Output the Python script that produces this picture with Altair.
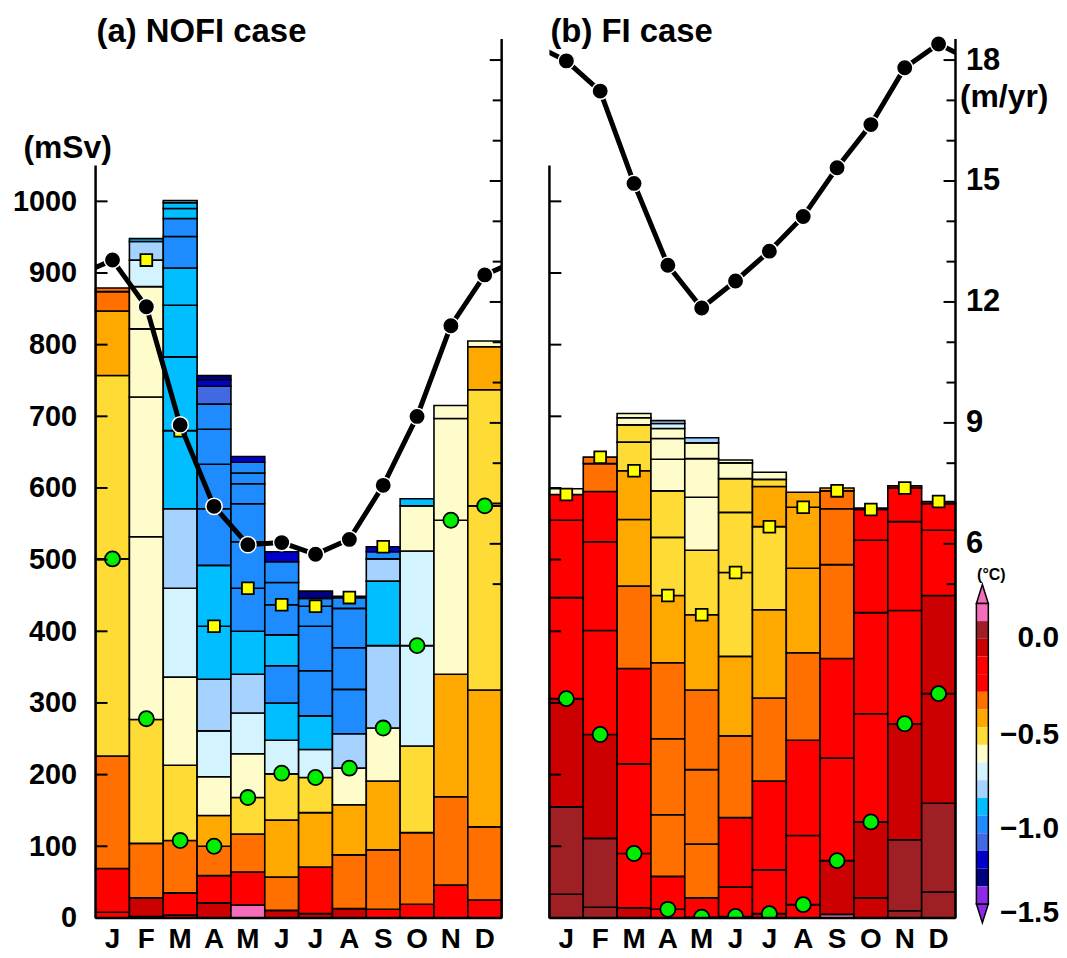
import json
import altair as alt
import pandas as pd

FONT = "Liberation Sans"
MONTHS = ["J", "F", "M", "A", "M", "J", "J", "A", "S", "O", "N", "D"]

CLASS_KEYS = ["P", "BR", "DR", "R", "O", "OL", "Y", "LY", "LC", "LB", "C", "DB", "RB", "MB", "NV", "PU"]
CLASS_COLORS = ["#F46CBA", "#9E2024", "#CC0000", "#FF0000", "#FF7000", "#FFA800", "#FFDC35", "#FFFCCC",
                "#D3F3FF", "#A5D2FF", "#00BEFF", "#1E8CFF", "#4169E1", "#0000CD", "#000080", "#8B2BE8"]

CBAR_CLASSES = ["P", "BR", "DR", "R", "R", "O", "OL", "Y", "LY", "LC", "LB", "C", "DB", "RB", "MB", "NV", "PU"]
CBAR_LABELS = ["0.0", "\u22120.5", "\u22121.0", "\u22121.5"]
CBAR_LABEL_POS = [1.97, 7.42, 12.75, 17.53]

# (a) NOFI case: stacked layer boundaries (mSv) and temperature classes per month
NOFI_BOUNDS = [
    [0, 8, 69, 226, 501, 757, 847, 874, 879],
    [0, 2, 28, 104, 277, 532, 727, 822, 881, 918, 944, 948],
    [0, 4, 35, 108, 213, 336, 460, 571, 680, 783, 855, 907, 951, 976, 990, 998, 1001],
    [0, 21, 59, 100, 143, 197, 261, 333, 407, 492, 571, 633, 682, 717, 742, 751, 757],
    [0, 18, 64, 117, 168, 229, 286, 340, 400, 460, 525, 578, 606, 621, 636, 644],
    [0, 10.6, 57, 136.5, 201, 248, 300, 352, 395, 437, 468, 497, 511],
    [0, 6, 71, 147, 196, 235, 282, 345, 407, 435, 446, 456],
    [0, 13, 88, 158, 209, 257, 319, 377, 432, 447, 449],
    [0, 12, 95, 191, 265, 380, 470, 501, 511, 518],
    [0, 19, 119, 240, 380, 512, 575, 585],
    [0, 46, 169, 340, 555, 697, 715],
    [0, 25, 127, 318, 575, 737, 797, 805],
]
NOFI_CLASSES = [
    ["R", "R", "O", "Y", "Y", "OL", "O", "O"],
    ["P", "DR", "O", "Y", "LY", "LY", "LY", "LY", "LC", "LB", "C"],
    ["DR", "R", "O", "Y", "LY", "LC", "LB", "C", "C", "C", "C", "DB", "DB", "C", "C", "LB"],
    ["DR", "R", "O", "OL", "LY", "LC", "LB", "C", "C", "DB", "DB", "DB", "DB", "RB", "MB", "NV"],
    ["P", "R", "O", "Y", "LY", "LC", "LB", "C", "DB", "DB", "DB", "DB", "DB", "DB", "MB"],
    ["DR", "O", "OL", "Y", "LC", "C", "DB", "C", "DB", "DB", "DB", "MB"],
    ["DR", "R", "OL", "Y", "LC", "C", "DB", "DB", "DB", "DB", "NV"],
    ["DR", "O", "OL", "LY", "LB", "DB", "DB", "DB", "DB", "MB"],
    ["R", "O", "OL", "LY", "LB", "C", "LB", "DB", "MB"],
    ["R", "O", "Y", "LC", "LC", "LY", "C"],
    ["R", "O", "OL", "LY", "LY", "LY"],
    ["R", "O", "OL", "Y", "Y", "OL", "LY"],
]
NOFI_GREEN = [501, 278, 108, 100, 168, 202, 196, 209, 265, 380, 555, 575]
NOFI_SQUARE = [None, 918, 680, 407, 460, 437, 435, 447, 518, None, None, None]
NOFI_SPEED = [13.04, 11.88, 8.95, 6.93, 5.98, 6.03, 5.74, 6.11, 7.45, 9.16, 11.41, 12.67]

# (b) FI case
FI_BOUNDS = [
    [0, 33, 155, 306, 447, 555, 591, 599],
    [0, 15, 111, 256, 401, 525, 595, 634, 643],
    [0, 14, 90, 215, 348, 463, 556, 624, 664, 688, 698, 704],
    [0, 12, 58, 144, 250, 356, 450, 531, 596, 640, 669, 683, 690, 694],
    [0, 1, 28, 103, 207, 318, 423, 513, 587, 641, 663, 670],
    [0, 2, 43, 140, 254, 365, 482, 566, 613, 635, 639],
    [0, 6, 67, 191, 307, 430, 546, 602, 612, 622],
    [0, 18.5, 115, 248, 370, 488, 573, 594],
    [0, 5, 80, 223, 362, 493, 571, 596, 600],
    [0, 28, 134, 285, 426, 527, 570, 572],
    [0, 10, 109, 271, 429, 553, 600, 603],
    [0, 36, 160, 313, 450, 541, 578, 581],
]
FI_CLASSES = [
    ["BR", "BR", "DR", "R", "R", "R", "LY"],
    ["BR", "BR", "DR", "R", "R", "R", "O", "O"],
    ["DR", "R", "R", "R", "O", "OL", "OL", "Y", "Y", "LY", "LY"],
    ["R", "R", "O", "O", "O", "OL", "Y", "Y", "LY", "LY", "LY", "LC", "LB"],
    ["R", "R", "O", "O", "O", "OL", "Y", "LY", "LY", "LY", "LB"],
    ["DR", "R", "R", "O", "OL", "Y", "Y", "Y", "LY", "LY"],
    ["DR", "R", "R", "O", "OL", "Y", "OL", "Y", "LY"],
    ["R", "R", "R", "O", "OL", "OL", "OL"],
    ["P", "DR", "R", "R", "O", "O", "O", "OL"],
    ["DR", "DR", "R", "R", "R", "R", "DR"],
    ["BR", "BR", "DR", "R", "R", "R", "DR"],
    ["BR", "BR", "DR", "DR", "R", "R", "DR"],
]
FI_GREEN = [306, 256, 90, 12, 1, 2, 6, 18.5, 80, 134, 271, 313]
FI_SQUARE = [591, 643, 624, 450, 423, 482, 546, 573, 596, 570, 600, 581]
FI_SPEED = [17.98, 17.23, 14.94, 12.91, 11.85, 12.52, 13.26, 14.12, 15.33, 16.40, 17.81, 18.40]

MSV_LABELS = list(range(0, 1001, 100))
MSV_TICKS = list(range(100, 1001, 100))
MSV_AXIS_TOP = 1050
SPEED_LABELS = [6, 9, 12, 15, 18]
SPEED_MINOR = [5, 7, 8, 10, 11, 13, 14, 16, 17]

W, H = 408, 883
MSV_DOMAIN = [0, 1226.4]
SPEED_DOMAIN = [-3.28, 18.52]

TRI_UP = "M0,-1L0.63,1L-0.63,1Z"
TRI_DOWN = "M0,1L0.63,-1L-0.63,-1Z"


def xs():
    return alt.Scale(domain=[0, 12], nice=False, zero=False)


def ys():
    return alt.Scale(domain=MSV_DOMAIN, nice=False, zero=False)


def vs():
    return alt.Scale(domain=SPEED_DOMAIN, nice=False, zero=False)


def cbs():
    return alt.Scale(domain=[0, 17], range=[567, 869], nice=False, zero=False)


def cs():
    return alt.Scale(domain=CLASS_KEYS, range=CLASS_COLORS)


def make_panel(title, bounds, classes, green, square, speed, left_labels, right_labels, with_cbar):
    rows = []
    for i, (b, c) in enumerate(zip(bounds, classes)):
        if len(b) != len(c) + 1:
            raise ValueError("bad stack %s %d" % (title, i))
        for j, k in enumerate(c):
            rows.append({"x0": i, "x1": i + 1, "y0": b[j], "y1": b[j + 1], "cls": k})
    seg = pd.DataFrame(rows)

    if left_labels:
        y_axis = alt.Axis(orient="left", values=MSV_LABELS, format="d", ticks=False, domain=False,
                          grid=False, labelFontSize=29, labelFont=FONT,
                          labelFontWeight="bold", labelPadding=19, labelColor="black",
                          title="(mSv)", titleAngle=0, titleX=-73, titleY=119, titleAlign="left",
                          titleBaseline="alphabetic", titleFontSize=32, titleFontWeight="bold",
                          titleColor="black", titleFont=FONT)
    else:
        y_axis = None

    layers = []
    layers.append(alt.Chart(seg).mark_rect(stroke="black", strokeWidth=1.6).encode(
        x=alt.X("x0:Q", scale=xs(), axis=None), x2="x1",
        y=alt.Y("y0:Q", scale=ys(), axis=y_axis), y2="y1",
        color=alt.Color("cls:N", scale=cs(), legend=None),
    ))
    gdf = pd.DataFrame({"x": [i + 0.5 for i in range(12)], "v": green})
    layers.append(alt.Chart(gdf).mark_point(shape="circle", filled=True, fill="#00EE00", stroke="black",
                                            strokeWidth=1.8, size=230, opacity=1, clip=True).encode(
        x=alt.X("x:Q", scale=xs(), axis=None), y=alt.Y("v:Q", scale=ys(), axis=None)))
    sdf = pd.DataFrame([{"x": i + 0.5, "v": v} for i, v in enumerate(square) if v is not None])
    layers.append(alt.Chart(sdf).mark_point(shape="square", filled=True, fill="#FFFF00", stroke="black",
                                            strokeWidth=1.8, size=140, opacity=1, clip=True).encode(
        x=alt.X("x:Q", scale=xs(), axis=None), y=alt.Y("v:Q", scale=ys(), axis=None)))
    layers.append(alt.Chart(pd.DataFrame({"a": [0], "b": [MSV_AXIS_TOP]})).mark_rule(
        color="black", strokeWidth=2.5).encode(
        x=alt.value(0), y=alt.Y("a:Q", scale=ys(), axis=None), y2="b"))
    layers.append(alt.Chart(pd.DataFrame({"t": MSV_TICKS})).mark_rule(color="black", strokeWidth=2).encode(
        x=alt.value(0), x2=alt.value(12), y=alt.Y("t:Q", scale=ys(), axis=None)))

    # speed line: wrap Dec before Jan and Jan after Dec, clipped to the panel
    ldf = pd.DataFrame({"x": [-0.5] + [i + 0.5 for i in range(12)] + [12.5],
                        "v": [speed[-1]] + list(speed) + [speed[0]]})
    if right_labels:
        r_axis = alt.Axis(orient="right", values=SPEED_LABELS, ticks=False, domain=False, grid=False,
                          labelFontSize=31, labelFontWeight="bold", labelPadding=10, labelColor="black",
                          labelFont=FONT,
                          title="(m/yr)", titleAngle=0, titleX=4, titleY=68, titleAlign="left",
                          titleBaseline="alphabetic", titleFontSize=32, titleFontWeight="bold",
                          titleColor="black", titleFont=FONT)
    else:
        r_axis = None
    layers.append(alt.Chart(ldf).mark_line(color="black", strokeWidth=5, clip=True).encode(
        x=alt.X("x:Q", scale=xs(), axis=None), y=alt.Y("v:Q", scale=vs(), axis=r_axis)))
    pdf = pd.DataFrame({"x": [i + 0.5 for i in range(12)], "v": speed})
    layers.append(alt.Chart(pdf).mark_circle(color="black", size=270, opacity=1, stroke="white",
                                             strokeWidth=1.5).encode(
        x=alt.X("x:Q", scale=xs(), axis=None), y=alt.Y("v:Q", scale=vs(), axis=None)))
    layers.append(alt.Chart(pd.DataFrame({"a": [0]})).mark_rule(color="black", strokeWidth=2.5).encode(
        x=alt.value(W), y=alt.value(0), y2=alt.value(H)))
    layers.append(alt.Chart(pd.DataFrame({"t": SPEED_LABELS})).mark_rule(color="black", strokeWidth=2).encode(
        x=alt.value(W - 12), x2=alt.value(W), y=alt.Y("t:Q", scale=vs(), axis=None)))
    layers.append(alt.Chart(pd.DataFrame({"t": SPEED_MINOR})).mark_rule(color="black", strokeWidth=2).encode(
        x=alt.value(W - 9), x2=alt.value(W), y=alt.Y("t:Q", scale=vs(), axis=None)))

    # bottom axis line and month labels
    layers.append(alt.Chart(pd.DataFrame({"a": [0]})).mark_rule(color="black", strokeWidth=2.5).encode(
        x=alt.value(0), x2=alt.value(W), y=alt.value(H)))
    mdf = pd.DataFrame({"x": [i + 0.5 for i in range(12)], "m": MONTHS})
    layers.append(alt.Chart(mdf).mark_text(
        align="center", baseline="top", fontSize=28, fontWeight="bold", color="black", font=FONT).encode(
        x=alt.X("x:Q", scale=xs(), axis=None), y=alt.value(H + 8), text="m:N"))

    if with_cbar:
        cdf = pd.DataFrame({"p0": list(range(17)), "p1": list(range(1, 18)), "cls": CBAR_CLASSES})
        cx0, cx1 = 429, 441
        layers.append(alt.Chart(pd.DataFrame({"p": [-0.53], "cls": [CBAR_CLASSES[0]]})).mark_point(
            shape=TRI_UP, filled=True, size=361, opacity=1, stroke="black", strokeWidth=1.5).encode(
            x=alt.value((cx0 + cx1) / 2), y=alt.Y("p:Q", scale=cbs(), axis=None),
            color=alt.Color("cls:N", scale=cs(), legend=None)))
        layers.append(alt.Chart(pd.DataFrame({"p": [17.53], "cls": [CBAR_CLASSES[-1]]})).mark_point(
            shape=TRI_DOWN, filled=True, size=361, opacity=1, stroke="black", strokeWidth=1.5).encode(
            x=alt.value((cx0 + cx1) / 2), y=alt.Y("p:Q", scale=cbs(), axis=None),
            color=alt.Color("cls:N", scale=cs(), legend=None)))
        layers.append(alt.Chart(cdf).mark_rect().encode(
            x=alt.value(cx0), x2=alt.value(cx1), y=alt.Y("p0:Q", scale=cbs(), axis=None), y2="p1",
            color=alt.Color("cls:N", scale=cs(), legend=None)))
        layers.append(alt.Chart(pd.DataFrame({"p0": [0], "p1": [17]})).mark_rect(
            fillOpacity=0, stroke="black", strokeWidth=1.5).encode(
            x=alt.value(cx0), x2=alt.value(cx1), y=alt.Y("p0:Q", scale=cbs(), axis=None), y2="p1"))
        layers.append(alt.Chart(pd.DataFrame({"p": CBAR_LABEL_POS, "lab": CBAR_LABELS})).mark_text(
            align="right", baseline="middle", fontSize=30, fontWeight="bold", color="black",
            font=FONT).encode(
            x=alt.value(512), y=alt.Y("p:Q", scale=cbs(), axis=None), text="lab:N"))
        layers.append(alt.Chart(pd.DataFrame({"t": ["(\u00b0C)"]})).mark_text(
            align="center", baseline="middle", fontSize=16, fontWeight="bold", color="black",
            font=FONT).encode(
            x=alt.value(444), y=alt.value(538), text="t:N"))

    # panel title drawn as text at the top-left corner of the panel
    layers.append(alt.Chart(pd.DataFrame({"t": [title]})).mark_text(
        align="left", baseline="alphabetic", fontSize=33, fontWeight="bold", color="black",
        font=FONT).encode(x=alt.value(1), y=alt.value(3), text="t:N"))

    return alt.layer(*layers).resolve_scale(y="independent").properties(width=W, height=H)


pa = make_panel("(a) NOFI case", NOFI_BOUNDS, NOFI_CLASSES, NOFI_GREEN, NOFI_SQUARE, NOFI_SPEED,
                True, False, False)
pb = make_panel("(b) FI case", FI_BOUNDS, FI_CLASSES, FI_GREEN, FI_SQUARE, FI_SPEED,
                False, True, True)

chart = alt.hconcat(pa, pb, spacing=44).properties(
    padding={"left": 4, "top": 6, "right": 0, "bottom": 0},
    background="white",
).configure_view(stroke=None)

chart.save("out.html", embed_options={"renderer": "svg", "actions": False})
